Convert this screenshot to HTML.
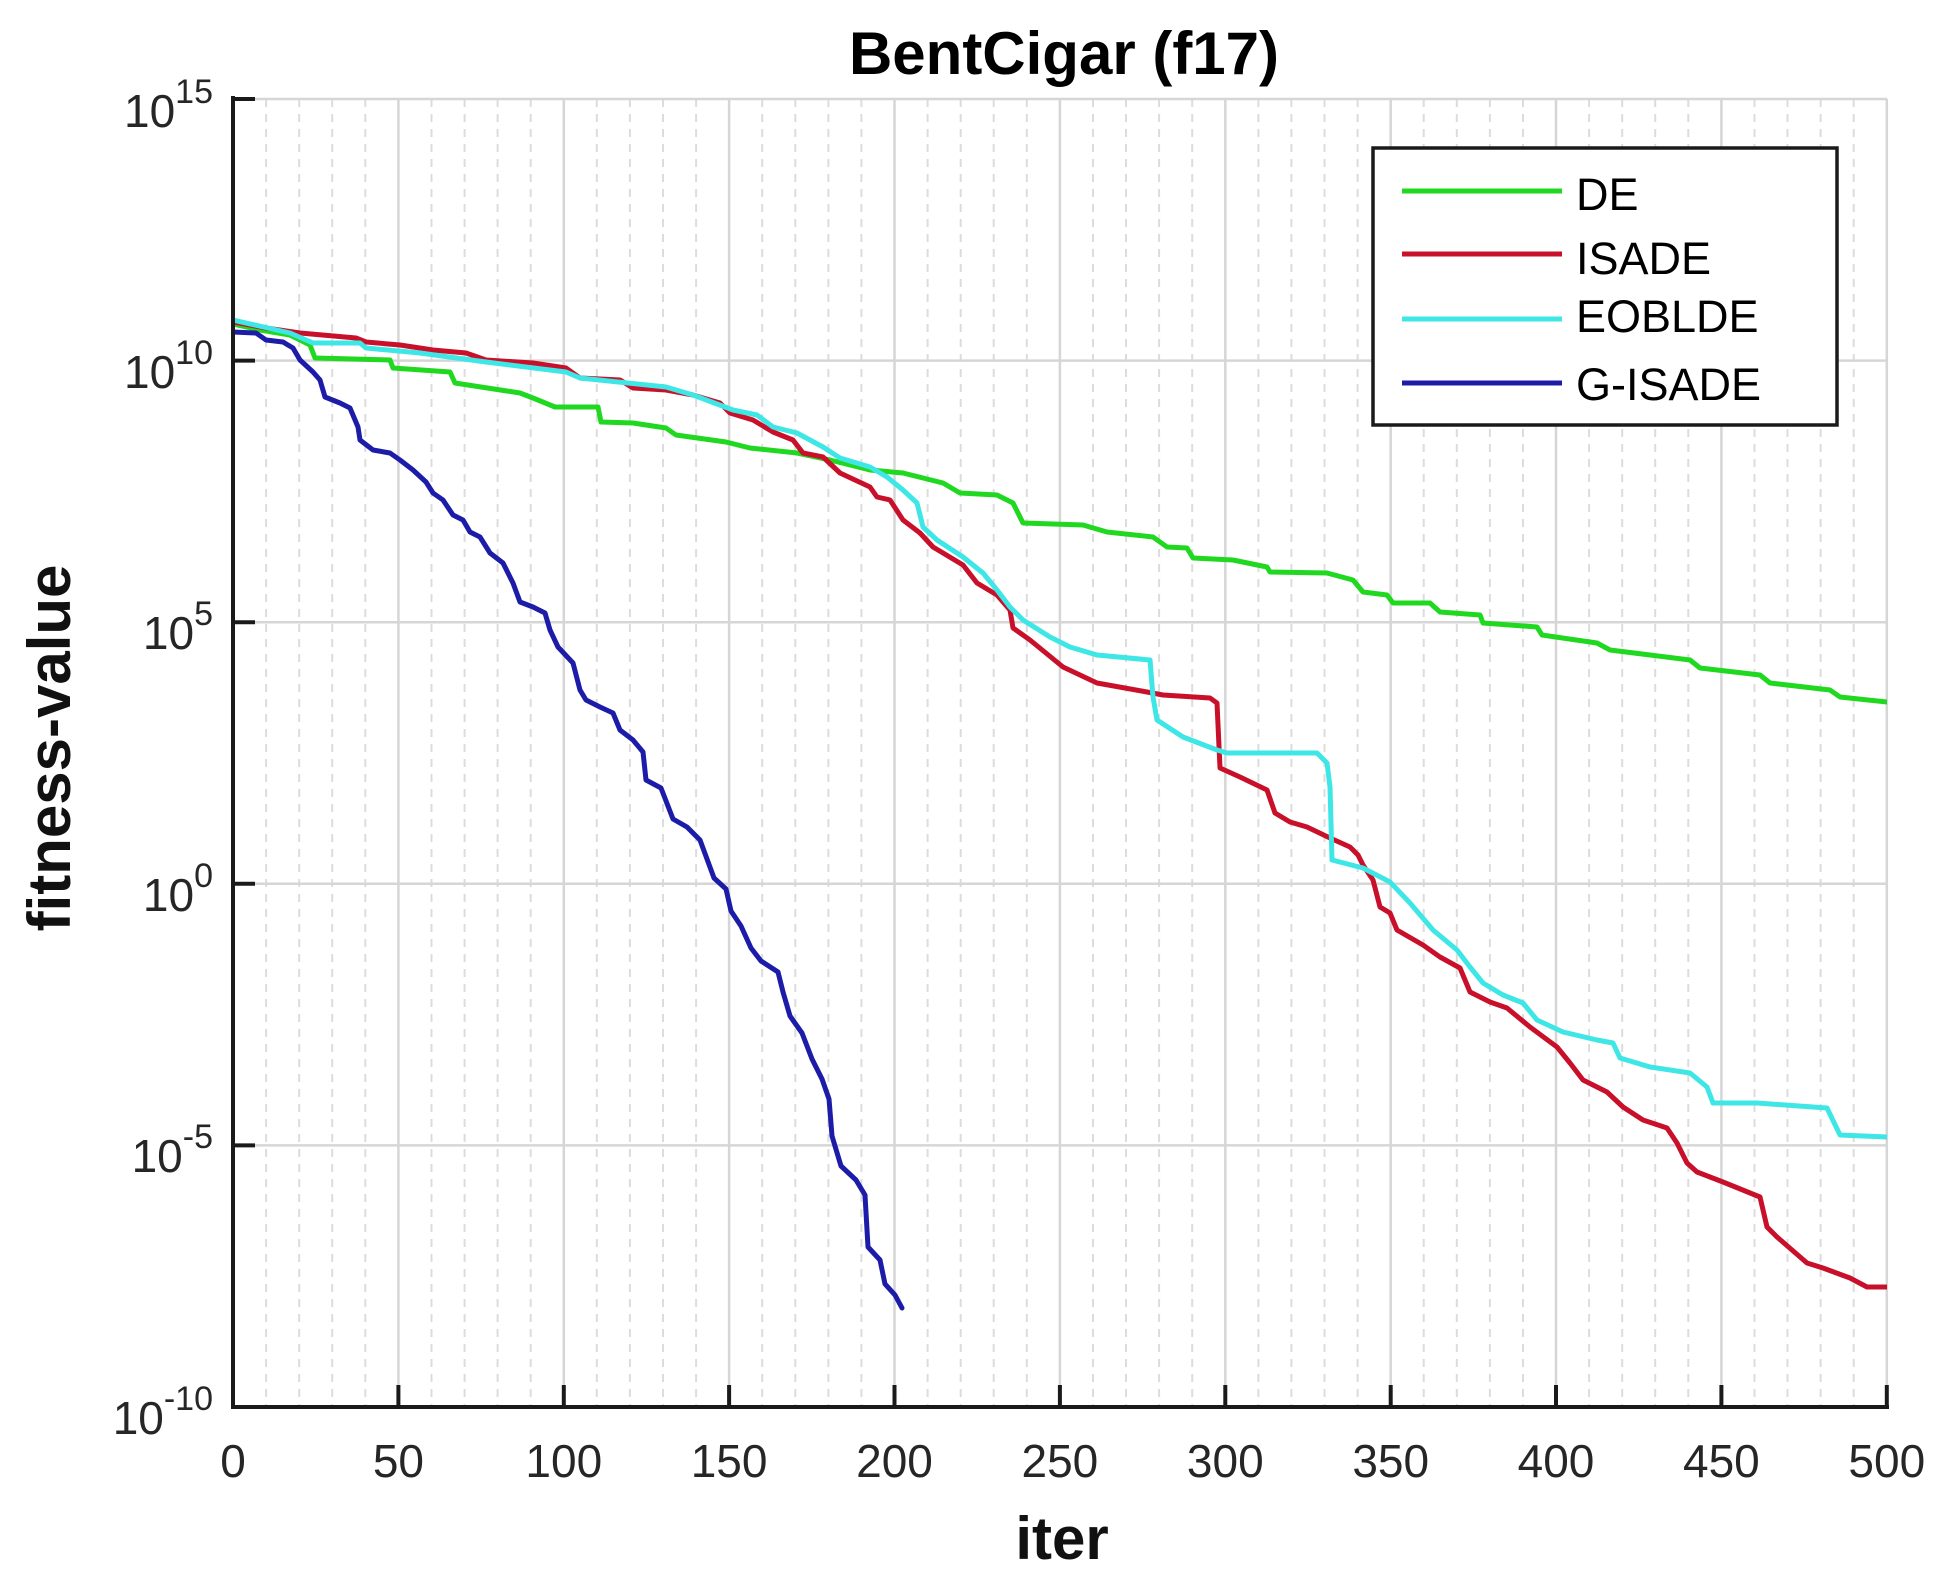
<!DOCTYPE html>
<html>
<head>
<meta charset="utf-8">
<style>
  html, body { margin: 0; padding: 0; background: #ffffff; }
  svg { display: block; }
  text { font-family: "Liberation Sans", Arial, sans-serif; }
</style>
</head>
<body>
<svg width="1939" height="1590" viewBox="0 0 1939 1590" xmlns="http://www.w3.org/2000/svg">
  <rect x="0" y="0" width="1939" height="1590" fill="#ffffff"/>

  <g stroke="#dcdcdc" stroke-width="2" stroke-dasharray="8,7">
    <line x1="266.1" y1="99" x2="266.1" y2="1407"/>
    <line x1="299.2" y1="99" x2="299.2" y2="1407"/>
    <line x1="332.2" y1="99" x2="332.2" y2="1407"/>
    <line x1="365.3" y1="99" x2="365.3" y2="1407"/>
    <line x1="431.5" y1="99" x2="431.5" y2="1407"/>
    <line x1="464.6" y1="99" x2="464.6" y2="1407"/>
    <line x1="497.6" y1="99" x2="497.6" y2="1407"/>
    <line x1="530.7" y1="99" x2="530.7" y2="1407"/>
    <line x1="596.8" y1="99" x2="596.8" y2="1407"/>
    <line x1="629.9" y1="99" x2="629.9" y2="1407"/>
    <line x1="663.0" y1="99" x2="663.0" y2="1407"/>
    <line x1="696.1" y1="99" x2="696.1" y2="1407"/>
    <line x1="762.2" y1="99" x2="762.2" y2="1407"/>
    <line x1="795.3" y1="99" x2="795.3" y2="1407"/>
    <line x1="828.4" y1="99" x2="828.4" y2="1407"/>
    <line x1="861.4" y1="99" x2="861.4" y2="1407"/>
    <line x1="927.6" y1="99" x2="927.6" y2="1407"/>
    <line x1="960.7" y1="99" x2="960.7" y2="1407"/>
    <line x1="993.7" y1="99" x2="993.7" y2="1407"/>
    <line x1="1026.8" y1="99" x2="1026.8" y2="1407"/>
    <line x1="1093.0" y1="99" x2="1093.0" y2="1407"/>
    <line x1="1126.0" y1="99" x2="1126.0" y2="1407"/>
    <line x1="1159.1" y1="99" x2="1159.1" y2="1407"/>
    <line x1="1192.2" y1="99" x2="1192.2" y2="1407"/>
    <line x1="1258.4" y1="99" x2="1258.4" y2="1407"/>
    <line x1="1291.4" y1="99" x2="1291.4" y2="1407"/>
    <line x1="1324.5" y1="99" x2="1324.5" y2="1407"/>
    <line x1="1357.6" y1="99" x2="1357.6" y2="1407"/>
    <line x1="1423.7" y1="99" x2="1423.7" y2="1407"/>
    <line x1="1456.8" y1="99" x2="1456.8" y2="1407"/>
    <line x1="1489.9" y1="99" x2="1489.9" y2="1407"/>
    <line x1="1523.0" y1="99" x2="1523.0" y2="1407"/>
    <line x1="1589.1" y1="99" x2="1589.1" y2="1407"/>
    <line x1="1622.2" y1="99" x2="1622.2" y2="1407"/>
    <line x1="1655.2" y1="99" x2="1655.2" y2="1407"/>
    <line x1="1688.3" y1="99" x2="1688.3" y2="1407"/>
    <line x1="1754.5" y1="99" x2="1754.5" y2="1407"/>
    <line x1="1787.5" y1="99" x2="1787.5" y2="1407"/>
    <line x1="1820.6" y1="99" x2="1820.6" y2="1407"/>
    <line x1="1853.7" y1="99" x2="1853.7" y2="1407"/>
  </g>

  <g stroke="#d6d6d6" stroke-width="2.5">
    <line x1="398.4" y1="99" x2="398.4" y2="1407"/>
    <line x1="563.8" y1="99" x2="563.8" y2="1407"/>
    <line x1="729.1" y1="99" x2="729.1" y2="1407"/>
    <line x1="894.5" y1="99" x2="894.5" y2="1407"/>
    <line x1="1059.9" y1="99" x2="1059.9" y2="1407"/>
    <line x1="1225.3" y1="99" x2="1225.3" y2="1407"/>
    <line x1="1390.7" y1="99" x2="1390.7" y2="1407"/>
    <line x1="1556.0" y1="99" x2="1556.0" y2="1407"/>
    <line x1="1721.4" y1="99" x2="1721.4" y2="1407"/>
    <line x1="1886.8" y1="99" x2="1886.8" y2="1407"/>
    <line x1="233" y1="99" x2="1887" y2="99"/>
    <line x1="233" y1="360.6" x2="1887" y2="360.6"/>
    <line x1="233" y1="622.2" x2="1887" y2="622.2"/>
    <line x1="233" y1="883.8" x2="1887" y2="883.8"/>
    <line x1="233" y1="1145.4" x2="1887" y2="1145.4"/>
  </g>

  <defs>
    <clipPath id="plotclip"><rect x="233" y="99" width="1654" height="1308"/></clipPath>
  </defs>
  <g clip-path="url(#plotclip)" fill="none" stroke-width="5" stroke-linejoin="round" stroke-linecap="round">
    <polyline stroke="#1fd81f" points="233,324 260,330 290,335 310,345 315,358 390,360 393,368 450,372 455,383 520,393 533,398 555,407 598,407 601,422 633,423 666,428 676,435 726,442 750,448 797,453 830,460 870,470 903,473 943,483 960,493 997,495 1013,503 1023,523 1083,525 1107,532 1153,537 1167,547 1187,548 1193,558 1233,560 1267,567 1270,572 1327,573 1353,580 1363,592 1387,595 1393,603 1430,603 1440,612 1480,615 1483,623 1537,627 1542,635 1597,643 1610,650 1650,655 1690,660 1700,668 1760,675 1770,683 1830,690 1840,697 1887,702"/>
    <polyline stroke="#c8102a" points="233,322 266,328 300,333 356,338 366,342 400,345 433,350 466,353 486,360 533,363 566,368 580,378 620,380 633,388 666,390 693,395 720,403 730,413 753,420 773,432 793,440 803,453 823,457 840,473 870,487 877,497 890,500 903,520 920,533 933,547 963,565 977,583 997,595 1010,610 1013,628 1030,640 1063,667 1097,683 1147,692 1163,695 1210,698 1217,703 1220,768 1240,777 1267,790 1275,813 1290,822 1307,827 1330,838 1350,847 1358,855 1363,865 1373,880 1380,907 1390,913 1397,930 1423,945 1440,957 1460,968 1470,992 1490,1002 1507,1008 1530,1027 1557,1047 1570,1063 1583,1080 1607,1092 1623,1107 1643,1120 1667,1128 1677,1143 1687,1163 1697,1172 1723,1182 1760,1197 1767,1227 1777,1237 1807,1263 1823,1268 1850,1278 1867,1287 1887,1287"/>
    <polyline stroke="#3ee6e6" points="233,320 290,333 313,343 360,343 366,348 420,353 486,362 566,372 580,378 666,387 693,395 733,410 757,415 773,427 797,433 823,447 840,458 870,467 887,477 903,490 917,503 923,527 937,540 963,557 983,573 997,590 1010,607 1023,620 1050,637 1070,647 1097,655 1150,660 1153,697 1157,720 1183,737 1217,750 1227,753 1317,753 1327,763 1330,787 1332,860 1363,868 1390,882 1410,903 1433,930 1457,950 1470,967 1483,983 1503,995 1523,1003 1537,1020 1563,1032 1597,1040 1613,1043 1620,1058 1650,1067 1690,1073 1707,1087 1713,1103 1757,1103 1827,1108 1840,1135 1887,1137"/>
    <polyline stroke="#1c1ca8" points="233,332 256,333 266,340 283,342 293,348 300,360 313,372 320,380 325,397 340,403 350,408 358,427 360,440 373,450 390,453 400,460 413,470 426,482 433,493 443,500 453,515 463,520 470,532 480,537 490,553 503,563 513,583 520,602 533,607 545,613 550,630 558,647 573,663 580,690 586,700 600,707 613,713 620,730 633,740 643,752 646,780 661,788 673,819 687,827 700,840 714,878 726,889 731,911 741,926 751,948 761,961 778,972 783,992 790,1016 802,1033 812,1059 822,1079 829,1099 832,1136 841,1166 856,1180 865,1195 868,1247 880,1260 885,1284 895,1295 902,1308"/>
  </g>

  <g stroke="#1a1a1a" stroke-width="4" stroke-linecap="square">
    <line x1="233" y1="98" x2="233" y2="1407"/>
    <line x1="233" y1="1407" x2="1887" y2="1407"/>
    <line x1="233" y1="99" x2="253" y2="99"/>
    <line x1="233" y1="360.6" x2="253" y2="360.6"/>
    <line x1="233" y1="622.2" x2="253" y2="622.2"/>
    <line x1="233" y1="883.8" x2="253" y2="883.8"/>
    <line x1="233" y1="1145.4" x2="253" y2="1145.4"/>
    <line x1="398.4" y1="1407" x2="398.4" y2="1387"/>
    <line x1="563.8" y1="1407" x2="563.8" y2="1387"/>
    <line x1="729.1" y1="1407" x2="729.1" y2="1387"/>
    <line x1="894.5" y1="1407" x2="894.5" y2="1387"/>
    <line x1="1059.9" y1="1407" x2="1059.9" y2="1387"/>
    <line x1="1225.3" y1="1407" x2="1225.3" y2="1387"/>
    <line x1="1390.7" y1="1407" x2="1390.7" y2="1387"/>
    <line x1="1556.0" y1="1407" x2="1556.0" y2="1387"/>
    <line x1="1721.4" y1="1407" x2="1721.4" y2="1387"/>
    <line x1="1886.8" y1="1407" x2="1886.8" y2="1387"/>
  </g>

  <g fill="#262626" font-size="46" text-anchor="end">
    <text x="213" y="127">10<tspan dy="-24" font-size="34">15</tspan></text>
    <text x="213" y="388">10<tspan dy="-24" font-size="34">10</tspan></text>
    <text x="213" y="649">10<tspan dy="-24" font-size="34">5</tspan></text>
    <text x="213" y="911">10<tspan dy="-24" font-size="34">0</tspan></text>
    <text x="213" y="1172">10<tspan dy="-24" font-size="34">-5</tspan></text>
    <text x="213" y="1434">10<tspan dy="-24" font-size="34">-10</tspan></text>
  </g>

  <g fill="#262626" font-size="46" text-anchor="middle">
    <text x="233" y="1477">0</text>
    <text x="398.4" y="1477">50</text>
    <text x="563.8" y="1477">100</text>
    <text x="729.1" y="1477">150</text>
    <text x="894.5" y="1477">200</text>
    <text x="1059.9" y="1477">250</text>
    <text x="1225.3" y="1477">300</text>
    <text x="1390.7" y="1477">350</text>
    <text x="1556.0" y="1477">400</text>
    <text x="1721.4" y="1477">450</text>
    <text x="1886.8" y="1477">500</text>
  </g>

  <text x="1064" y="74" font-size="60" font-weight="bold" text-anchor="middle" fill="#000">BentCigar (f17)</text>
  <text x="1062" y="1559" font-size="60" font-weight="bold" text-anchor="middle" fill="#111">iter</text>
  <text x="0" y="0" font-size="60" font-weight="bold" text-anchor="middle" fill="#111" transform="translate(70,748) rotate(-90)">fitness-value</text>

  <rect x="1373" y="148" width="464" height="277" fill="#ffffff" stroke="#1a1a1a" stroke-width="3.5"/>
  <g stroke-width="5" stroke-linecap="butt">
    <line x1="1402" y1="191" x2="1562" y2="191" stroke="#1fd81f"/>
    <line x1="1402" y1="254" x2="1562" y2="254" stroke="#c8102a"/>
    <line x1="1402" y1="319" x2="1562" y2="319" stroke="#3ee6e6"/>
    <line x1="1402" y1="383" x2="1562" y2="383" stroke="#1c1ca8"/>
  </g>
  <g fill="#000" font-size="45">
    <text x="1576" y="210">DE</text>
    <text x="1576" y="274">ISADE</text>
    <text x="1576" y="332">EOBLDE</text>
    <text x="1576" y="400">G-ISADE</text>
  </g>
</svg>
</body>
</html>
